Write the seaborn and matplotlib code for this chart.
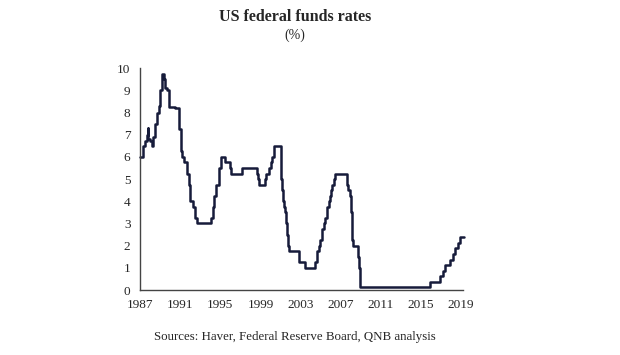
import numpy as np
import pandas as pd
import matplotlib
matplotlib.use('Agg')
import matplotlib.pyplot as plt
import seaborn as sns

# change points of the rate (month, %)
months = ['1987-01', '1987-05', '1987-07', '1987-09', '1987-10', '1987-11', '1988-01', '1988-03',
          '1988-05', '1988-07', '1988-09', '1988-11', '1989-01', '1989-03', '1989-06', '1989-07',
          '1989-09', '1989-12', '1990-07', '1990-11', '1990-12', '1991-02', '1991-03', '1991-05',
          '1991-09', '1991-11', '1992-01', '1992-04', '1992-07', '1992-09', '1994-02', '1994-04',
          '1994-05', '1994-08', '1994-11', '1995-02', '1995-07', '1995-12', '1996-02', '1997-03',
          '1998-09', '1998-10', '1998-11', '1999-06', '1999-08', '1999-11', '2000-02', '2000-03',
          '2000-05', '2001-01', '2001-02', '2001-03', '2001-04', '2001-05', '2001-06', '2001-08',
          '2001-09', '2001-10', '2001-11', '2001-12', '2002-11', '2003-06', '2004-06', '2004-08',
          '2004-09', '2004-11', '2004-12', '2005-02', '2005-03', '2005-05', '2005-06', '2005-08',
          '2005-09', '2005-11', '2005-12', '2006-01', '2006-03', '2006-05', '2006-06', '2007-09',
          '2007-10', '2007-12', '2008-01', '2008-02', '2008-03', '2008-04', '2008-10', '2008-11',
          '2008-12', '2015-12', '2016-12', '2017-03', '2017-06', '2017-12', '2018-03', '2018-06',
          '2018-09', '2018-12', '2019-05']
rates = [6.0, 6.5, 6.7, 7.0, 7.3, 6.8, 6.7, 6.5,
         6.9, 7.5, 8.0, 8.3, 9.0, 9.75, 9.5, 9.1,
         9.0, 8.25, 8.2, 8.0, 7.25, 6.25, 6.0, 5.75,
         5.25, 4.75, 4.0, 3.75, 3.25, 3.0, 3.25, 3.75,
         4.25, 4.75, 5.5, 6.0, 5.75, 5.5, 5.25, 5.5,
         5.25, 5.0, 4.75, 5.0, 5.25, 5.5, 5.75, 6.0,
         6.5, 5.5, 5.0, 4.5, 4.0, 3.75, 3.5, 3.0,
         2.5, 2.0, 1.75, 1.75, 1.25, 1.0, 1.25, 1.5,
         1.75, 2.0, 2.25, 2.5, 2.75, 3.0, 3.25, 3.5,
         3.75, 4.0, 4.25, 4.5, 4.75, 5.0, 5.25, 4.75,
         4.5, 4.25, 3.5, 3.0, 2.25, 2.0, 1.5, 1.0,
         0.125, 0.375, 0.625, 0.875, 1.125, 1.375, 1.625, 1.875,
         2.125, 2.375, 2.375]
year_ticks = [1987, 1991, 1995, 1999, 2003, 2007, 2011, 2015, 2019]

dt = pd.to_datetime(months)
df = pd.DataFrame({'year': dt.year + (dt.month - 1) / 12, 'rate': rates})

sns.set_style('white')
plt.rcParams['font.family'] = ['Liberation Serif', 'DejaVu Serif']

fig = plt.figure(figsize=(6.2, 3.55), dpi=100)
ax = fig.add_axes([0.226, 0.183, 0.521, 0.625])

sns.lineplot(data=df, x='year', y='rate', drawstyle='steps-post', color='#161b3a', lw=1.8,
             ax=ax, clip_on=False)

ax.set_xlim(1987, 2019.2)
ax.set_ylim(0, 10)
ax.set_xticks(year_ticks)
ax.set_yticks(range(0, 11))
ax.set_xlabel('')
ax.set_ylabel('')
for s in ['top', 'right']:
    ax.spines[s].set_visible(False)
for s in ['left', 'bottom']:
    ax.spines[s].set_color('#444444')
    ax.spines[s].set_linewidth(1.0)
ax.tick_params(axis='x', direction='inout', length=5, width=1, color='#444444', labelsize=9.5, pad=4)
ax.tick_params(axis='y', direction='out', length=3, width=1, color='#444444', labelsize=9.5, pad=4)

fig.text(0.476, 0.952, 'US federal funds rates', ha='center', va='center', fontsize=11.5, fontweight='bold')
fig.text(0.476, 0.9, '(%)', ha='center', va='center', fontsize=10)
fig.text(0.476, 0.05, 'Sources: Haver, Federal Reserve Board, QNB analysis', ha='center', va='center', fontsize=9.3)

plt.savefig('out.png', dpi=100)
